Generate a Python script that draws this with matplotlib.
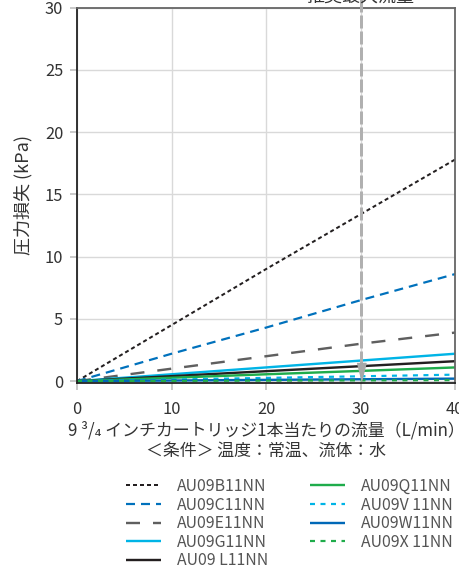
import matplotlib
matplotlib.use("Agg")
import matplotlib.pyplot as plt

plt.rcParams['font.family'] = ['Noto Sans CJK JP', 'DejaVu Sans']
plt.rcParams['lines.scale_dashes'] = False

# ---- data ----
flow = [0, 10, 20, 30, 40]
names = ["AU09B11NN", "AU09C11NN", "AU09E11NN", "AU09G11NN", "AU09 L11NN",
         "AU09Q11NN", "AU09V 11NN", "AU09W11NN", "AU09X 11NN"]
b11 = [0, 4.5, 9.0, 13.4, 17.8]
c11 = [0, 2.2, 4.3, 6.5, 8.6]
e11 = [0, 1.0, 2.0, 3.0, 3.9]
g11 = [0, 0.55, 1.1, 1.65, 2.2]
l11 = [0, 0.4, 0.8, 1.2, 1.6]
q11 = [0, 0.27, 0.55, 0.82, 1.1]
v11 = [0, 0.13, 0.26, 0.39, 0.52]
w11 = [0, 0.05, 0.1, 0.15, 0.2]
x11 = [0, 0.02, 0.04, 0.06, 0.08]
series = [b11, c11, e11, g11, l11, q11, v11, w11, x11]
xticks = [0, 10, 20, 30, 40]
yticks = [0, 5, 10, 15, 20, 25, 30]
rec_flow = 30

px = 0.72
styles = [
    dict(color='#231f20', lw=2 * px, dashes=(4 * px, 3 * px)),
    dict(color='#0071bc', lw=2.2 * px, dashes=(9 * px, 6 * px)),
    dict(color='#5f5f5f', lw=2.4 * px, dashes=(14 * px, 13 * px)),
    dict(color='#00b4e6', lw=2.4 * px),
    dict(color='#231f20', lw=2.4 * px),
    dict(color='#1fac4b', lw=2.4 * px),
    dict(color='#00b4e6', lw=2.2 * px, dashes=(5 * px, 5.5 * px)),
    dict(color='#0068b7', lw=2.4 * px),
    dict(color='#1fac4b', lw=2.2 * px, dashes=(5 * px, 5.5 * px)),
]

W, H = 459, 571
fig = plt.figure(figsize=(W / 100, H / 100), dpi=100)
ax = fig.add_axes([77 / W, 1 - 383 / H, (455 - 77) / W, (383 - 7.7) / H])

ax.set_xlim(0, 40)
ax.set_ylim(-0.15, 30)
ax.set_xticks(xticks)
ax.set_yticks(yticks)
ax.grid(True, color='#d9d9d9', lw=1.4 * px)
ax.set_axisbelow(True)
ax.tick_params(axis='both', length=5, width=1.2, color='#c0c0c0',
               labelsize=11.8, labelcolor='#333333')
ax.tick_params(axis='x', pad=8)
ax.tick_params(axis='y', pad=5)
for s in ['left', 'bottom']:
    ax.spines[s].set_color('#222222')
    ax.spines[s].set_linewidth(1.3)
for s in ['right', 'top']:
    ax.spines[s].set_color('#666666')
    ax.spines[s].set_linewidth(1.3)

handles = []
for name, ys, st in zip(names, series, styles):
    kw = dict(color=st['color'], lw=st['lw'], solid_capstyle='butt', dash_capstyle='butt')
    if 'dashes' in st:
        kw['dashes'] = st['dashes']
    else:
        kw['ls'] = '-'
    ln, = ax.plot(flow, ys, label=name, **kw)
    handles.append(ln)

# recommended max flow marker
ax.plot([rec_flow, rec_flow], [1.4, 31], color='#b0b0b0', lw=3 * px,
        dashes=(13 * px, 3 * px), clip_on=False, zorder=5)
ax.plot([rec_flow], [0.7], marker=[(-0.5, 1), (0.5, 1), (0, -1)], ms=13,
        color='#a8a8a8', mec='#a8a8a8', zorder=6, clip_on=False)
fig.text(361 / W, 1 - 1.5 / H, '推奨最大流量', ha='center', va='baseline',
         fontsize=13, color='#333333')

ax.set_ylabel('圧力損失 (kPa)', fontsize=13, color='#333333', labelpad=9)

fig.text(266 / W, 1 - 430 / H, '9 ³/₄ インチカートリッジ1本当たりの流量（L/min）',
         ha='center', va='center', fontsize=12.2, color='#333333')
fig.text(266 / W, 1 - 451 / H, '＜条件＞ 温度：常温、流体：水',
         ha='center', va='center', fontsize=12.2, color='#333333')

leg = fig.legend(handles=handles, loc='upper left', bbox_to_anchor=(126 / W, 1 - 478 / H),
                 ncol=2, frameon=False, fontsize=11.4, handlelength=2.2,
                 handletextpad=1.0, columnspacing=2.65, labelspacing=0.1,
                 borderaxespad=0, borderpad=0)
for t in leg.get_texts():
    t.set_color('#555555')

fig.savefig('out.png', dpi=100)
